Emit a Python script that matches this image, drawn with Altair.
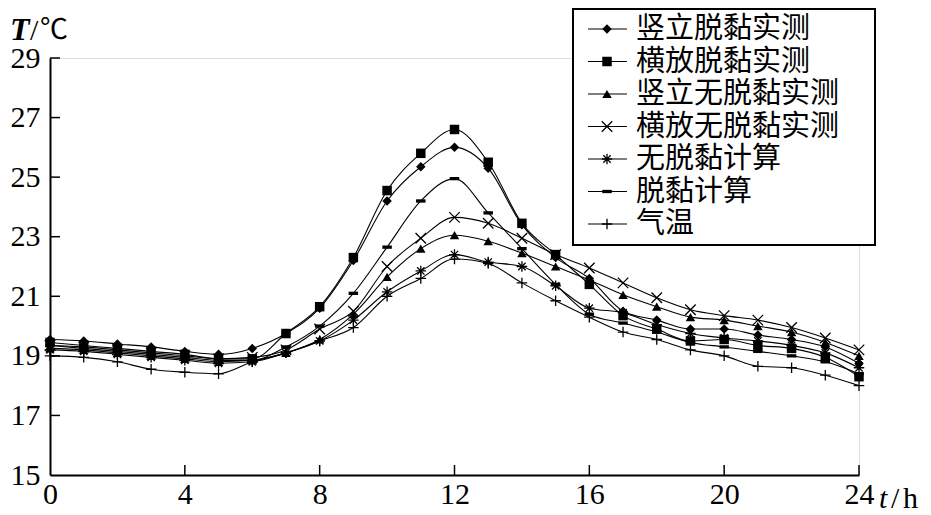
import altair as alt
import pandas as pd

hours = list(range(25))
series_names = ["竖立脱黏实测", "横放脱黏实测", "竖立无脱黏实测", "横放无脱黏实测",
                "无脱黏计算", "脱黏计算", "气温"]

v_debond_meas = [19.55, 19.5, 19.4, 19.3, 19.15, 19.05, 19.25, 19.75, 20.6, 22.2, 24.2, 25.35, 26.0,
                 25.3, 23.4, 22.3, 21.6, 20.5, 20.2, 19.9, 19.9, 19.7, 19.55, 19.3, 18.75]
h_debond_meas = [19.45, 19.35, 19.25, 19.15, 19.05, 18.9, 18.9, 19.75, 20.65, 22.3, 24.55, 25.8, 26.6,
                 25.5, 23.45, 22.4, 21.4, 20.35, 19.9, 19.5, 19.55, 19.35, 19.25, 18.95, 18.3]
v_nodebond_meas = [19.25, 19.2, 19.1, 19.0, 18.9, 18.8, 18.85, 19.1, 19.55, 20.4, 21.65, 22.6, 23.05,
                   22.85, 22.45, 22.0, 21.55, 21.05, 20.65, 20.3, 20.2, 20.0, 19.8, 19.45, 19.0]
h_nodebond_meas = [19.35, 19.3, 19.2, 19.1, 19.0, 18.9, 18.95, 19.2, 19.9, 20.5, 22.0, 22.95, 23.65,
                   23.45, 22.95, 22.4, 21.95, 21.45, 20.95, 20.55, 20.35, 20.2, 19.95, 19.6, 19.2]
nodebond_calc = [19.2, 19.15, 19.05, 18.95, 18.85, 18.75, 18.8, 19.1, 19.5, 20.2, 21.15, 21.85, 22.4,
                 22.15, 22.0, 21.35, 20.6, 20.45, 20.05, 19.75, 19.6, 19.5, 19.35, 19.1, 18.6]
debond_calc = [19.35, 19.25, 19.15, 19.05, 18.95, 18.85, 18.85, 19.3, 20.0, 21.1, 22.65, 24.2, 24.95,
               23.8, 22.6, 21.4, 20.4, 20.1, 19.8, 19.45, 19.3, 19.15, 19.0, 18.8, 18.4]
air_temp = [19.0, 18.95, 18.8, 18.55, 18.45, 18.4, 18.8, 19.1, 19.5, 19.95, 21.0, 21.6, 22.25,
            22.1, 21.45, 20.85, 20.3, 19.8, 19.55, 19.2, 19.0, 18.65, 18.6, 18.35, 18.0]

x_ticks = [0, 4, 8, 12, 16, 20, 24]
y_ticks = [15, 17, 19, 21, 23, 25, 27, 29]

all_values = [v_debond_meas, h_debond_meas, v_nodebond_meas, h_nodebond_meas,
              nodebond_calc, debond_calc, air_temp]

rows = []
for name, vals in zip(series_names, all_values):
    for h, v in zip(hours, vals):
        rows.append({"series": name, "hour": h, "temp": v})
df = pd.DataFrame(rows)

SERIF = "Liberation Serif, Times New Roman, serif"
CJK = "Noto Sans CJK SC"

XMARK = "M-1,-1L1,1M-1,1L1,-1"
AST = "M-1,0L1,0M0,-1L0,1M-0.7,-0.7L0.7,0.7M-0.7,0.7L0.7,-0.7"
DASH = "M-1,-0.35L1,-0.35L1,0.35L-1,0.35Z"
PLUS = "M-1,0L1,0M0,-1L0,1"
shapes = ["diamond", "square", "triangle-up", XMARK, AST, DASH, PLUS]
filled_series = [series_names[i] for i in (0, 1, 2, 5)]
stroked_series = [series_names[i] for i in (3, 4, 6)]

shape_enc = alt.Shape("series:N", scale=alt.Scale(domain=series_names, range=shapes), legend=None)

x_enc = alt.X("hour:Q", scale=alt.Scale(domain=[0, 24], nice=False),
              axis=alt.Axis(values=x_ticks, tickSize=0, grid=False, title=None,
                            labelFont=SERIF, labelFontSize=30, labelColor="black",
                            labelPadding=4, labelFlush=False, domainColor="black", domainWidth=2,
                            format="d"))
y_enc = alt.Y("temp:Q", scale=alt.Scale(domain=[15, 29], nice=False, zero=False),
              axis=alt.Axis(values=y_ticks, tickSize=0, grid=False, title=None,
                            labelFont=SERIF, labelFontSize=30, labelColor="black",
                            labelPadding=10, domainColor="black", domainWidth=2, format="d"))

base = alt.Chart(df)
lines = base.mark_line(color="black", strokeWidth=1.1, interpolate="monotone").encode(
    x=x_enc, y=y_enc, detail="series:N")
pts_filled = base.transform_filter(
    alt.FieldOneOfPredicate(field="series", oneOf=filled_series)
).mark_point(filled=True, color="black", size=90, opacity=1).encode(
    x="hour:Q", y="temp:Q", shape=shape_enc)
pts_stroked = base.transform_filter(
    alt.FieldOneOfPredicate(field="series", oneOf=stroked_series)
).mark_point(filled=False, color="black", size=110, strokeWidth=1.3, opacity=1).encode(
    x="hour:Q", y="temp:Q", shape=shape_enc)

xt = alt.Chart(pd.DataFrame({"t": x_ticks[1:]})).mark_rule(color="black", strokeWidth=1.5).encode(
    x="t:Q", y=alt.value(417), y2=alt.value(407))
yt = alt.Chart(pd.DataFrame({"t": y_ticks[1:]})).mark_rule(color="black", strokeWidth=1.5).encode(
    y="t:Q", x=alt.value(0), x2=alt.value(10))

one = pd.DataFrame({"a": [0]})
t_T = alt.Chart(one).mark_text(text="T", font=SERIF, fontSize=32, fontStyle="italic",
                               fontWeight="bold", align="left", baseline="alphabetic").encode(
    x=alt.value(-40), y=alt.value(-18))
t_slash = alt.Chart(one).mark_text(text="/", font=SERIF, fontSize=30,
                                   align="left", baseline="alphabetic").encode(
    x=alt.value(-20), y=alt.value(-18))
t_C = alt.Chart(one).mark_text(text="℃", font=CJK, fontSize=28,
                               align="left", baseline="alphabetic").encode(
    x=alt.value(-10), y=alt.value(-19))
t_t = alt.Chart(one).mark_text(text="t", font=SERIF, fontSize=30, fontStyle="italic",
                               align="left", baseline="alphabetic").encode(
    x=alt.value(829), y=alt.value(450))
t_s2 = alt.Chart(one).mark_text(text="/", font=SERIF, fontSize=30,
                                align="left", baseline="alphabetic").encode(
    x=alt.value(841), y=alt.value(450))
t_h = alt.Chart(one).mark_text(text="h", font=SERIF, fontSize=30,
                               align="left", baseline="alphabetic").encode(
    x=alt.value(853), y=alt.value(450))

main = alt.layer(lines, pts_filled, pts_stroked, xt, yt, t_T, t_slash, t_C, t_t, t_s2, t_h)

leg_df = pd.DataFrame({"series": series_names, "row": list(range(len(series_names)))})
leg_y = alt.Y("row:Q", scale=alt.Scale(domain=[0, 6], range=[-29, 166], nice=False, zero=False), axis=None)
leg_box = alt.Chart(one).mark_rect(fill="white", stroke="black", strokeWidth=2).encode(
    x=alt.value(523), x2=alt.value(825), y=alt.value(-49), y2=alt.value(187))
leg_lines = alt.Chart(leg_df).mark_rule(color="black", strokeWidth=1.2).encode(
    x=alt.value(538), x2=alt.value(577), y=leg_y)
leg_filled = alt.Chart(leg_df).transform_filter(
    alt.FieldOneOfPredicate(field="series", oneOf=filled_series)
).mark_point(filled=True, color="black", size=90, opacity=1).encode(
    x=alt.value(557), y=leg_y, shape=shape_enc)
leg_stroked = alt.Chart(leg_df).transform_filter(
    alt.FieldOneOfPredicate(field="series", oneOf=stroked_series)
).mark_point(filled=False, color="black", size=110, strokeWidth=1.3, opacity=1).encode(
    x=alt.value(557), y=leg_y, shape=shape_enc)
leg_text = alt.Chart(leg_df).mark_text(font=CJK, fontSize=29, align="left",
                                       baseline="middle", color="black").encode(
    x=alt.value(586), y=leg_y, text="series:N")
legend = alt.layer(leg_box, leg_lines, leg_filled, leg_stroked, leg_text)

chart = alt.layer(main, legend).resolve_scale(y="independent").properties(
    width=809, height=417,
    padding={"left": 42, "top": 50, "right": 64, "bottom": 38},
    autosize=alt.AutoSizeParams(type="none"),
).configure_view(stroke=None).configure(background="white").configure_axis(labelFont=SERIF)

chart.save("out.html", embed_options={"renderer": "svg", "actions": False})
